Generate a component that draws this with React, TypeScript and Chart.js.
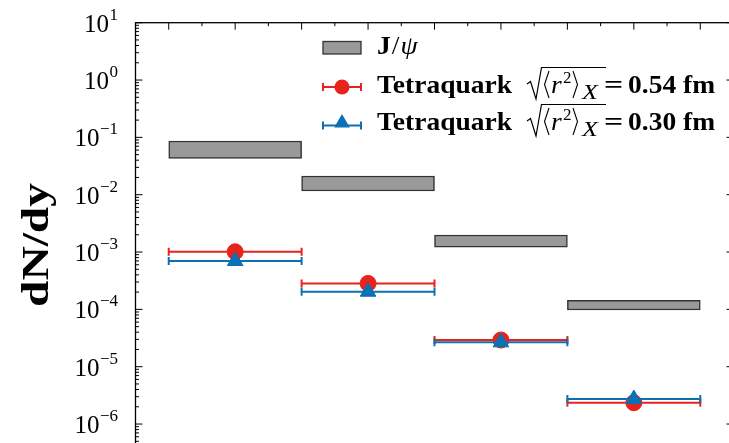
import { useEffect, useRef } from 'react';
import { Chart, registerables } from 'chart.js';

Chart.register(...registerables);

// Bin edges on the horizontal axis
const binLow = [0, 1, 2, 3];
const binHigh = [1, 2, 3, 4];

// J/psi band: lower and upper edge per bin
const jpsiLow = [0.0431, 0.0116, 0.00121, 9.75e-5];
const jpsiHigh = [0.0865, 0.0212, 0.00198, 1.44e-4];

// Tetraquark yields for the two radii
const tetraquark054 = [1.01e-3, 2.84e-4, 2.92e-5, 2.35e-6];
const tetraquark030 = [6.97e-4, 2.03e-4, 2.66e-5, 2.73e-6];
const radiusLabels = ['0.54', '0.30'];

// Axis ticks
const yTickExponents = [1, 0, -1, -2, -3, -4, -5, -6];
const xMajorTicks = [0, 0.5, 1, 1.5, 2, 2.5, 3, 3.5, 4];
const xMinorTicks = [0.25, 0.75, 1.25, 1.75, 2.25, 2.75, 3.25, 3.75];

const RED = '#e8231b';
const BLUE = '#0b70b4';
const SERIF = '"Liberation Serif", "DejaVu Serif", serif';

const centers = binLow.map((lo, i) => (lo + binHigh[i]) / 2);
const binEdges = [binLow[0], ...binHigh];

function errorSegments(values: number[]) {
  const pts: { x: number; y: number | null }[] = [];
  values.forEach((v, i) => {
    pts.push({ x: binLow[i], y: v }, { x: binHigh[i], y: v }, { x: binHigh[i], y: null });
  });
  return pts;
}

function txt(
  ctx: CanvasRenderingContext2D,
  s: string,
  x: number,
  y: number,
  font: string,
  sx = 1,
  align: CanvasTextAlign = 'left'
) {
  ctx.save();
  ctx.font = font;
  ctx.translate(x, y);
  ctx.scale(sx, 1);
  ctx.textAlign = align;
  ctx.textBaseline = 'alphabetic';
  ctx.fillStyle = '#000';
  ctx.fillText(s, 0, 0);
  const w = ctx.measureText(s).width * sx;
  ctx.restore();
  return w;
}

const BOLD = `bold 25px ${SERIF}`;

function drawErrorHandle(ctx: CanvasRenderingContext2D, y: number, color: string) {
  ctx.strokeStyle = color;
  ctx.lineWidth = 2;
  ctx.beginPath();
  ctx.moveTo(323, y);
  ctx.lineTo(361, y);
  ctx.moveTo(323, y - 4);
  ctx.lineTo(323, y + 4);
  ctx.moveTo(361, y - 4);
  ctx.lineTo(361, y + 4);
  ctx.stroke();
}

function drawRadiusText(ctx: CanvasRenderingContext2D, b: number, value: string) {
  ctx.strokeStyle = '#000';
  ctx.lineWidth = 1.2;
  ctx.beginPath();
  ctx.moveTo(527, b - 9);
  ctx.lineTo(530.5, b - 11.5);
  ctx.lineTo(536, b + 6);
  ctx.lineTo(541.5, b - 25.5);
  ctx.lineTo(606, b - 25.5);
  ctx.stroke();
  ctx.lineWidth = 1.1;
  ctx.beginPath();
  ctx.moveTo(549, b - 22);
  ctx.lineTo(544.5, b - 8.5);
  ctx.lineTo(549, b + 5);
  ctx.stroke();
  txt(ctx, 'r', 551, b, `italic 25px ${SERIF}`, 1.1);
  txt(ctx, '2', 563, b - 10, `17px ${SERIF}`);
  ctx.beginPath();
  ctx.moveTo(573, b - 22);
  ctx.lineTo(577.5, b - 8.5);
  ctx.lineTo(573, b + 5);
  ctx.stroke();
  txt(ctx, 'X', 582, b + 6, `italic 20px ${SERIF}`, 1.3);
  txt(ctx, '=', 604, b, BOLD, 1.35);
  txt(ctx, `${value} fm`, 628, b, BOLD, 1.1);
}

const framePlugin = {
  id: 'frame',
  afterDraw(chart: any) {
    const { ctx, chartArea: a, scales } = chart;
    const xs = scales.x;
    const ys = scales.y;
    ctx.save();

    // spines
    ctx.strokeStyle = '#000';
    ctx.lineWidth = 1.3;
    ctx.strokeRect(a.left, a.top, a.right - a.left, a.bottom - a.top);

    const seg = (x1: number, y1: number, x2: number, y2: number) => {
      ctx.beginPath();
      ctx.moveTo(x1, y1);
      ctx.lineTo(x2, y2);
      ctx.stroke();
    };

    // log ticks on left and right, pointing inward
    ctx.lineWidth = 1;
    for (let e = -7; e <= 1; e++) {
      for (let m = 1; m <= 9; m++) {
        const v = m * Math.pow(10, e);
        if (v < ys.min || v > ys.max) continue;
        const y = ys.getPixelForValue(v);
        const len = m === 1 ? 7 : 3.5;
        seg(a.left, y, a.left + len, y);
        seg(a.right, y, a.right - len, y);
      }
    }
    // top ticks
    xMajorTicks.forEach((v) => {
      const x = xs.getPixelForValue(v);
      seg(x, a.top, x, a.top + 7);
    });
    xMinorTicks.forEach((v) => {
      const x = xs.getPixelForValue(v);
      seg(x, a.top, x, a.top + 3.5);
    });

    // y tick labels 10^n
    yTickExponents.forEach((e) => {
      const y = ys.getPixelForValue(Math.pow(10, e));
      const expStr = e < 0 ? '\u2212' + -e : String(e);
      const ew = txt(ctx, expStr, 118, y - 3, `17px ${SERIF}`, 1, 'right');
      txt(ctx, '10', 118 - ew - 0.5, y + 9, `25px ${SERIF}`, 1, 'right');
    });

    // y axis title
    ctx.save();
    ctx.translate(48, 245);
    ctx.rotate(-Math.PI / 2);
    ctx.font = `bold 38px ${SERIF}`;
    const natural = ctx.measureText('dN/dy').width;
    ctx.scale(124 / natural, 1);
    ctx.textAlign = 'center';
    ctx.textBaseline = 'alphabetic';
    ctx.fillStyle = '#000';
    ctx.fillText('dN/dy', 0, 0);
    ctx.restore();

    // legend
    ctx.fillStyle = '#999999';
    ctx.fillRect(323, 41.5, 38, 12.5);
    ctx.strokeStyle = '#333';
    ctx.lineWidth = 1.3;
    ctx.strokeRect(323, 41.5, 38, 12.5);
    let x = 377;
    x += txt(ctx, 'J', x, 54, BOLD, 1.1) + 1;
    x += txt(ctx, '/', x, 54, `25px ${SERIF}`, 1.1) + 1;
    txt(ctx, '\u03c8', x, 54, `italic 25px ${SERIF}`, 1.1);

    drawErrorHandle(ctx, 87, RED);
    ctx.fillStyle = RED;
    ctx.beginPath();
    ctx.arc(342, 87, 7.5, 0, Math.PI * 2);
    ctx.fill();
    txt(ctx, 'Tetraquark', 377, 93, BOLD, 1.1);
    drawRadiusText(ctx, 93, radiusLabels[0]);

    drawErrorHandle(ctx, 125.5, BLUE);
    ctx.fillStyle = BLUE;
    ctx.beginPath();
    ctx.moveTo(342, 114);
    ctx.lineTo(349.8, 127.5);
    ctx.lineTo(334.2, 127.5);
    ctx.closePath();
    ctx.fill();
    txt(ctx, 'Tetraquark', 377, 130, BOLD, 1.1);
    drawRadiusText(ctx, 130, radiusLabels[1]);

    ctx.restore();
  },
};

export default function App() {
  const ref = useRef<HTMLCanvasElement | null>(null);

  useEffect(() => {
    if (!ref.current) return;
    const errLine = (values: number[], color: string, order: number) => ({
      type: 'line' as const,
      data: errorSegments(values),
      borderColor: color,
      borderWidth: 2,
      showLine: true,
      spanGaps: false,
      pointStyle: 'line' as const,
      pointRotation: 90,
      pointRadius: 4,
      pointBorderColor: color,
      pointBorderWidth: 2,
      pointBackgroundColor: color,
      order,
    });
    const chart = new Chart(ref.current, {
      type: 'scatter',
      data: {
        datasets: [
          {
            type: 'bar',
            label: 'J/psi',
            data: centers.map((c, i) => ({ x: c, y: [jpsiLow[i], jpsiHigh[i]] })) as any,
            backgroundColor: '#999999',
            borderColor: '#333333',
            borderWidth: 1.5,
            borderSkipped: false,
            barPercentage: 1,
            categoryPercentage: 1,
            grouped: false,
            order: 5,
          } as any,
          errLine(tetraquark054, RED, 4),
          {
            type: 'scatter',
            label: 'Tetraquark 0.54 fm',
            data: centers.map((c, i) => ({ x: c, y: tetraquark054[i] })),
            pointStyle: 'circle',
            pointRadius: 8,
            backgroundColor: RED,
            borderColor: RED,
            borderWidth: 1,
            order: 3,
          },
          errLine(tetraquark030, BLUE, 2),
          {
            type: 'scatter',
            label: 'Tetraquark 0.30 fm',
            data: centers.map((c, i) => ({ x: c, y: tetraquark030[i] })),
            pointStyle: 'triangle',
            pointRadius: 9,
            backgroundColor: BLUE,
            borderColor: BLUE,
            borderWidth: 1,
            order: 1,
          },
        ] as any,
      },
      options: {
        responsive: false,
        animation: false,
        devicePixelRatio: 1,
        events: [],
        layout: { padding: { left: 135.5, top: 22.7, right: 46.5, bottom: 27.3 } },
        plugins: { legend: { display: false }, tooltip: { enabled: false } },
        scales: {
          x: {
            type: 'linear',
            min: -0.25,
            max: 4.25,
            offset: false,
            display: false,
            afterBuildTicks: (scale: any) => {
              scale.ticks = binEdges.map((v) => ({ value: v }));
            },
          },
          y: { type: 'logarithmic', min: Math.pow(10, -6.5), max: 10, display: false },
        },
      },
      plugins: [framePlugin],
    });
    return () => chart.destroy();
  }, []);

  return (
    <div
      style={{
        position: 'fixed',
        left: 0,
        top: 0,
        width: 729,
        height: 443,
        overflow: 'hidden',
        background: '#fff',
      }}
    >
      <canvas ref={ref} width={780} height={480} style={{ display: 'block', width: 780, height: 480 }} />
    </div>
  );
}
